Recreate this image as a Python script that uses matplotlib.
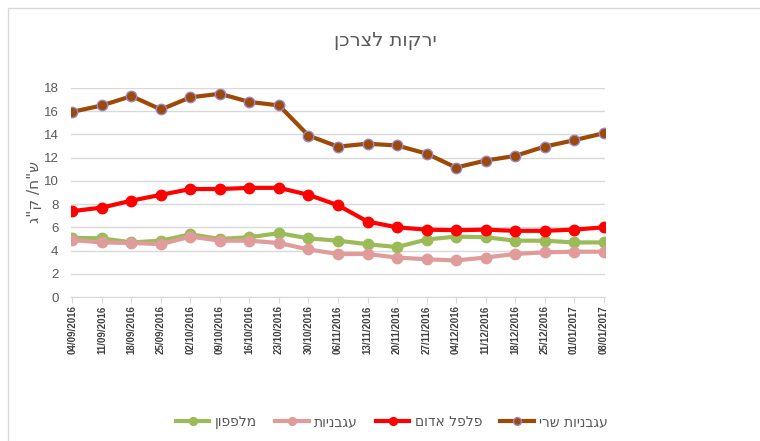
#!/usr/bin/env python3

import matplotlib
matplotlib.use("Agg")
import matplotlib.pyplot as plt
from matplotlib.patches import Rectangle

plt.rcParams["font.family"] = ["Liberation Sans", "DejaVu Sans"]

dates = ["04/09/2016", "11/09/2016", "18/09/2016", "25/09/2016", "02/10/2016",
         "09/10/2016", "16/10/2016", "23/10/2016", "30/10/2016", "06/11/2016",
         "13/11/2016", "20/11/2016", "27/11/2016", "04/12/2016", "11/12/2016",
         "18/12/2016", "25/12/2016", "01/01/2017", "08/01/2017"]

cucumber = [5.1, 5.05, 4.7, 4.85, 5.4, 5.0, 5.15, 5.5, 5.05, 4.85, 4.55, 4.3,
            4.95, 5.2, 5.15, 4.85, 4.85, 4.7, 4.7]
tomatoes = [4.9, 4.7, 4.65, 4.55, 5.2, 4.85, 4.85, 4.65, 4.1, 3.7, 3.7, 3.4,
            3.25, 3.15, 3.4, 3.7, 3.85, 3.9, 3.9]
red_pepper = [7.4, 7.7, 8.3, 8.8, 9.3, 9.3, 9.4, 9.4, 8.8, 7.9, 6.5, 6.0,
              5.8, 5.75, 5.8, 5.7, 5.7, 5.8, 6.0]
cherry = [15.95, 16.5, 17.3, 16.15, 17.2, 17.5, 16.8, 16.5, 13.9, 12.95, 13.2,
          13.05, 12.35, 11.15, 11.75, 12.15, 12.95, 13.5, 14.1]

title = "ירקות לצרכן"
ylabel = 'ש"ח/ ק"ג'
names = ["מלפפון", "עגבניות", "פלפל אדום", "עגבניות שרי"]


def rtl(s):
    # no bidi in matplotlib, flip hebrew for display
    return s[::-1]


fig = plt.figure(figsize=(7.6, 4.41), dpi=100)
fig.patches.append(Rectangle((8 / 760, -0.01), 1.0, 1 - 8 / 441 + 0.01,
                             transform=fig.transFigure, fill=False,
                             edgecolor="#d9d9d9", linewidth=1.0))

ax = fig.add_axes([71 / 760, 1 - 297 / 441, (605 - 71) / 760, (297 - 88) / 441])
x = list(range(len(dates)))

ax.plot(x, cucumber, color="#9bbb59", lw=3, marker="o", ms=7.5,
        mfc="#9bbb59", mec="#9bbb59", label=rtl(names[0]))
ax.plot(x, tomatoes, color="#e09c9a", lw=3, marker="o", ms=7.5,
        mfc="#e09c9a", mec="#e09c9a", label=rtl(names[1]))
ax.plot(x, red_pepper, color="#ff0000", lw=3, marker="o", ms=7.5,
        mfc="#ff0000", mec="#ff0000", label=rtl(names[2]))
ax.plot(x, cherry, color="#9c4a06", lw=3, marker="o", ms=7.5,
        mfc="#9c4a06", mec="#9a86c8", mew=1.0, label=rtl(names[3]))

ax.set_xlim(-0.05, len(dates) - 0.95)
ax.set_ylim(0, 18)
ax.set_yticks(range(0, 19, 2))
ax.grid(axis="y", color="#d9d9d9", lw=1)
ax.set_axisbelow(True)
for s in ["top", "right", "left"]:
    ax.spines[s].set_visible(False)
ax.spines["bottom"].set_color("#d9d9d9")

ax.set_xticks(x)
ax.set_xticklabels(dates, rotation=90, fontsize=7, fontweight="bold",
                   color="#404040")
ax.tick_params(axis="x", length=4, color="#d9d9d9", pad=2)
ax.tick_params(axis="y", length=0, labelsize=9.5, labelcolor="#595959", pad=9)

ax.set_ylabel(rtl(ylabel), fontsize=11, color="#595959", labelpad=1,
              family=["DejaVu Sans"])

fig.text(385 / 760, 1 - 40 / 441, rtl(title), ha="center", va="center",
         fontsize=14, color="#595959", family=["DejaVu Sans"])

fig.legend(loc="center", bbox_to_anchor=(392 / 760, 1 - 422 / 441), ncol=4,
           frameon=False, labelcolor="#595959", markerscale=0.75,
           handlelength=2.4, columnspacing=1.3, handletextpad=0.4,
           prop={"family": ["DejaVu Sans"], "size": 10})

plt.savefig("out.png", dpi=100)
